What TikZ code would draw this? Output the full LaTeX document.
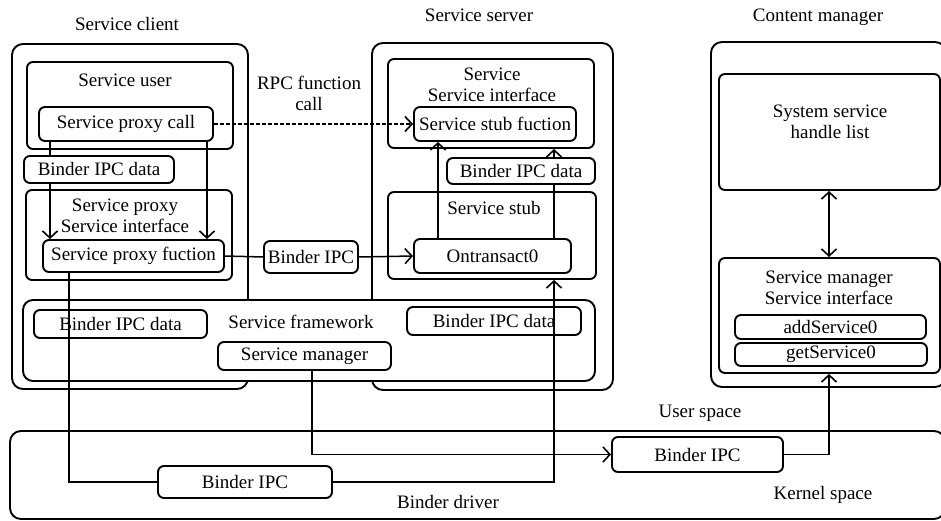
\documentclass[tikz,border=0pt]{standalone}
\usepackage{fontspec}
\setmainfont{Liberation Serif}
\usetikzlibrary{arrows.meta,calc}
\begin{document}
\begin{tikzpicture}[x=1pt,y=-1pt,
  font=\rmfamily\fontsize{19}{21}\selectfont,
  box/.style={draw, line width=1.9pt, rounded corners=6pt, fill=white, inner sep=0pt},
  outer/.style={draw, line width=1.9pt, rounded corners=11pt, fill=white, inner sep=0pt},
  conn/.style={line width=1.5pt},
  arr/.style={conn, -{Straight Barb[length=7pt,width=15pt,line width=1.6pt]}},
  arrboth/.style={conn, {Straight Barb[length=7pt,width=15pt,line width=1.6pt]}-{Straight Barb[length=7pt,width=15pt,line width=1.6pt]}},
  lbl/.style={inner sep=0pt, align=center}]
\useasboundingbox (0,0) rectangle (941,521);

% outer containers
\node[outer, minimum width=236pt, minimum height=345pt] (cli) at (130,216.5) {};
\node[outer, minimum width=241pt, minimum height=347pt] (srv) at (492.5,216.5) {};
\node[outer, minimum width=235pt, minimum height=345pt] (cm) at (828.5,214.5) {};
\node[outer, minimum width=935pt, minimum height=88pt] (bdrv) at (477.5,475) {};
\node[box, rounded corners=10pt, minimum width=572pt, minimum height=81pt] (fw) at (309,340.5) {};

% titles
\node[lbl] (tcli) at (127,24) {Service client};
\node[lbl] (tsrv) at (479,15) {Service server};
\node[lbl] (tcm) at (818,17) {Content manager};

% client
\node[box, minimum width=206pt, minimum height=87pt] (su) at (130,105.5) {};
\node[lbl] (tsu) at (125,80) {Service user};
\node[box, minimum width=174pt, minimum height=34pt] (spc) at (126,124) {Service proxy call};
\node[box, minimum width=150pt, minimum height=27pt] (bd1) at (99,169.5) {Binder IPC data};
\node[box, minimum width=206pt, minimum height=90pt] (pi) at (129,235) {};
\node[lbl] (tpi) at (125,216) {Service proxy\\Service interface};
\node[box, minimum width=181pt, minimum height=32pt] (spf) at (133.5,256) {Service proxy fuction};
\node[box, minimum width=94pt, minimum height=32pt] (bipc) at (311,257) {Binder IPC};
\node[lbl] (trpc) at (309,93.5) {RPC function\\call};

% server
\node[box, minimum width=206pt, minimum height=89pt] (ssi) at (491,103.5) {};
\node[lbl] (tssi) at (492,84.5) {Service\\Service interface};
\node[box, minimum width=162pt, minimum height=34pt] (ssf) at (495,124) {Service stub fuction};
\node[box, minimum width=148pt, minimum height=26pt] (bd2) at (521,171) {Binder IPC data};
\node[box, minimum width=208pt, minimum height=87pt] (sst) at (492,235.5) {};
\node[lbl] (tsst) at (494,208) {Service stub};
\node[box, minimum width=157pt, minimum height=34pt] (ont) at (492.5,256) {Ontransact0};

% framework
\node[lbl] (tfw) at (301,322) {Service framework};
\node[box, minimum width=173pt, minimum height=28pt] (bd3) at (120.5,324) {Binder IPC data};
\node[box, minimum width=174pt, minimum height=28pt] (bd4) at (494,321) {Binder IPC data};
\node[box, minimum width=173pt, minimum height=28pt] (smg) at (304.5,356) {Service manager};

% content manager
\node[box, minimum width=221pt, minimum height=116pt] (ssh) at (829.5,132) {};
\node[lbl] (tssh) at (830,121.5) {System service\\handle list};
\node[box, minimum width=221pt, minimum height=115pt] (smi) at (829.5,315.5) {};
\node[lbl] (tsmi) at (829,287.5) {Service manager\\Service interface};
\node[box, minimum width=191pt, minimum height=24pt] (add) at (830.5,327) {addService0};
\node[box, minimum width=192pt, minimum height=23pt] (get) at (831,354.5) {getService0};

% kernel
\node[lbl] (tuser) at (700,413) {User space};
\node[lbl] (tkern) at (823,495) {Kernel space};
\node[lbl] (tbdrv) at (448,502) {Binder driver};
\node[box, minimum width=174pt, minimum height=32pt] (bipc2) at (245,482) {Binder IPC};
\node[box, minimum width=171pt, minimum height=35pt] (bipc3) at (697.5,454.5) {Binder IPC};

% helper x positions
\coordinate (xa) at (50,0);
\coordinate (xb) at (207,0);
\coordinate (xc) at (69,0);
\coordinate (xd) at (438,0);
\coordinate (xe) at (554,0);
\coordinate (xf) at (312,0);
\coordinate (xg) at (829,0);

% connectors
\draw[conn] (spc.south -| xa) -- (bd1.north -| xa);
\draw[arr] (bd1.south -| xa) -- (spf.north -| xa);
\draw[arr] (spc.south -| xb) -- (spf.north -| xb);
\draw[arr, dash pattern=on 4pt off 2pt] (spc.east) -- (ssf.west);
\draw[conn] (spf.east) -- (bipc.west);
\draw[arr] (bipc.east) -- (ont.west);
\draw[arr] (ont.north -| xd) -- (ssf.south -| xd);
\draw[conn] (ont.north -| xe) -- (bd2.south -| xe);
\draw[arr] (bd2.north -| xe) -- (ssi.south -| xe);
\draw[conn] (spf.south -| xc) |- (bipc2.west);
\draw[arr] (bipc2.east) -| (sst.south -| xe);
\draw[arr] (smg.south -| xf) |- (bipc3.west);
\draw[arr] (bipc3.east) -| (smi.south -| xg);
\draw[arrboth] (ssh.south -| xg) -- (smi.north -| xg);
\end{tikzpicture}
\end{document}
